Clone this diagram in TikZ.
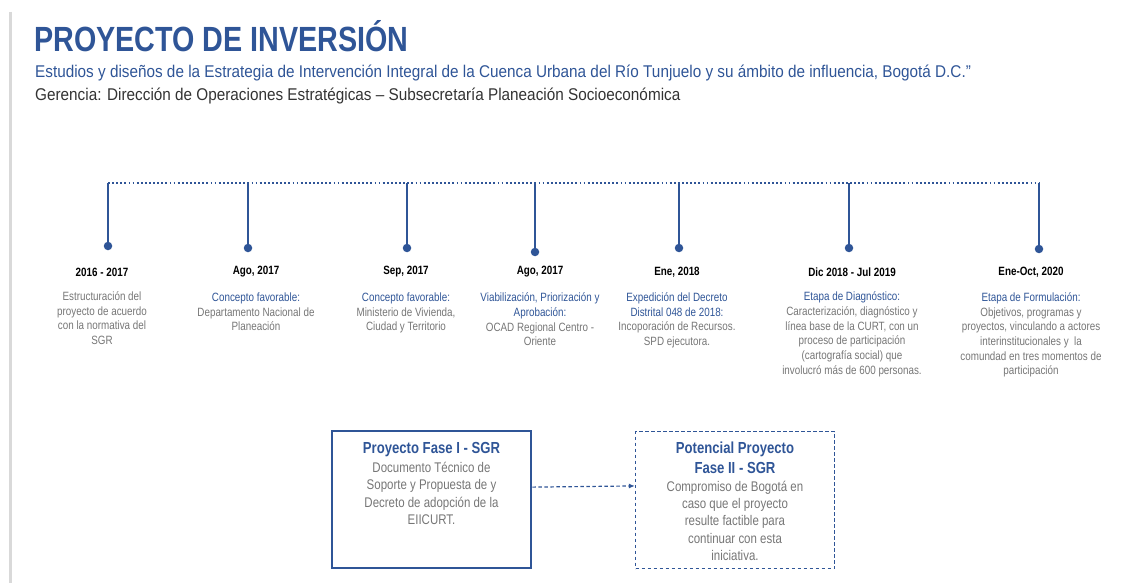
\documentclass[tikz,border=0pt]{standalone}
\usepackage{fontspec}
\setmainfont{Liberation Sans}[FakeStretch=0.82]
\newfontfamily\cabecera{Liberation Sans}[FakeStretch=0.9]
\usetikzlibrary{positioning,arrows.meta}

\definecolor{azul}{RGB}{47,85,151}
\definecolor{gristxt}{RGB}{118,118,118}
\definecolor{barra}{RGB}{217,217,217}

\newcommand{\azul}[1]{\textcolor{azul}{#1}}

\tikzset{
	eje/.style={azul, line width=2pt, dash pattern=on 1.8pt off 2.3pt},
	stem/.style={azul, line width=2.4pt},
	hito/.style={circle, fill=azul, inner sep=0pt, minimum size=8.5pt},
	fecha/.style={font=\bfseries\fontsize{12}{14}\selectfont, inner sep=0pt},
	desc/.style={align=center, text=gristxt, font=\fontsize{12}{14.7}\selectfont, inner sep=0pt},
	caja/.style={draw=azul, minimum width=199pt, minimum height=137pt, inner sep=0pt},
	cajatit/.style={align=center, text=azul, font=\bfseries\fontsize{16}{20}\selectfont, inner sep=0pt},
	cajatxt/.style={align=center, text=gristxt, font=\fontsize{14}{17.2}\selectfont, inner sep=0pt}
}

\begin{document}
\begin{tikzpicture}[x=1pt,y=-1pt]
\useasboundingbox (0,0) rectangle (1129,583);

%----------------------------
% Header
%----------------------------
\draw[barra, line width=3pt] (10,12) -- (10,583);
\node[anchor=base west, inner sep=0pt, text=azul,
	font=\bfseries\fontsize{35}{40}\selectfont] (titulo) at (34,52) {PROYECTO DE INVERSIÓN};
\node[anchor=base west, inner sep=0pt, text=azul,
	font=\cabecera\fontsize{17}{20}\selectfont] (subtitulo) at (35,78)
	{Estudios y diseños de la Estrategia de Intervención Integral de la Cuenca Urbana del Río Tunjuelo y su ámbito de influencia, Bogotá D.C.”};
\node[anchor=base west, inner sep=0pt, text=black!80,
	font=\cabecera\fontsize{17}{20}\selectfont] (gerencia) at (35,101)
	{Gerencia: Dirección de Operaciones Estratégicas – Subsecretaría Planeación Socioeconómica};

%----------------------------
% Timeline
%----------------------------
\foreach \i/\x/\y in {1/108/246, 2/248/248, 3/407/248, 4/535/252, 5/679/248, 6/849/248, 7/1039/249}{
	\coordinate (t\i) at (\x,183);
	\node[hito] (p\i) at (\x,\y) {};
	\draw[stem] (t\i) -- (p\i);
}
\draw[eje] (t1) -- (t7);
\draw[stem] ([yshift=-1.2pt]t1) -- (t1);

% dates
\node[fecha] (d1) at (102,272) {2016 - 2017};
\node[fecha] (d2) at (256,272) {Ago, 2017};
\node[fecha] (d3) at (406,272) {Sep, 2017};
\node[fecha] (d4) at (540,272) {Ago, 2017};
\node[fecha] (d5) at (677,272) {Ene, 2018};
\node[fecha] (d6) at (852,272) {Dic 2018 - Jul 2019};
\node[fecha] (d7) at (1031,272) {Ene-Oct, 2020};

% descriptions
\node[desc, below=15pt of d1] (e1) {Estructuración del\\proyecto de acuerdo\\con la normativa del\\SGR};
\node[desc, below=15pt of d2] (e2) {\azul{Concepto favorable:}\\Departamento Nacional de\\Planeación};
\node[desc, below=15pt of d3] (e3) {\azul{Concepto favorable:}\\Ministerio de Vivienda,\\Ciudad y Territorio};
\node[desc, below=15pt of d4] (e4) {\azul{Viabilización, Priorización y}\\\azul{Aprobación:}\\OCAD Regional Centro -\\Oriente};
\node[desc, below=15pt of d5] (e5) {\azul{Expedición del Decreto}\\\azul{Distrital 048 de 2018:}\\Incoporación de Recursos.\\SPD ejecutora.};
\node[desc, below=15pt of d6] (e6) {\azul{Etapa de Diagnóstico:}\\Caracterización, diagnóstico y\\línea base de la CURT, con un\\proceso de participación\\(cartografía social) que\\involucró más de 600 personas.};
\node[desc, below=15pt of d7] (e7) {\azul{Etapa de Formulación:}\\Objetivos, programas y\\proyectos, vinculando a actores\\interinstitucionales y \ la\\comundad en tres momentos de\\participación};

%----------------------------
% Project phases
%----------------------------
\node[caja, line width=2.6pt] (fase1) at (431.5,499.5) {};
\node[caja, line width=1.2pt, dash pattern=on 3.5pt off 2.5pt] (fase2) at (735,500) {};

\node[cajatit, below=12.5pt of fase1.north] (f1tit) {Proyecto Fase I - SGR};
\node[cajatxt, below=5pt of f1tit] (f1txt) {Documento Técnico de\\Soporte y Propuesta de y\\Decreto de adopción de la\\EIICURT.};

\node[cajatit, below=10.5pt of fase2.north] (f2tit) {Potencial Proyecto\\Fase II - SGR};
\node[cajatxt, below=7pt of f2tit, font=\fontsize{14}{17.4}\selectfont] (f2txt) {Compromiso de Bogotá en\\caso que el proyecto\\resulte factible para\\continuar con esta\\iniciativa.};

\draw[azul, line width=1.2pt, dash pattern=on 3.5pt off 2.5pt,
	-{Latex[length=6pt,width=5pt]}] (fase1.7.2) -- (fase2.172.8);

\end{tikzpicture}
\end{document}
